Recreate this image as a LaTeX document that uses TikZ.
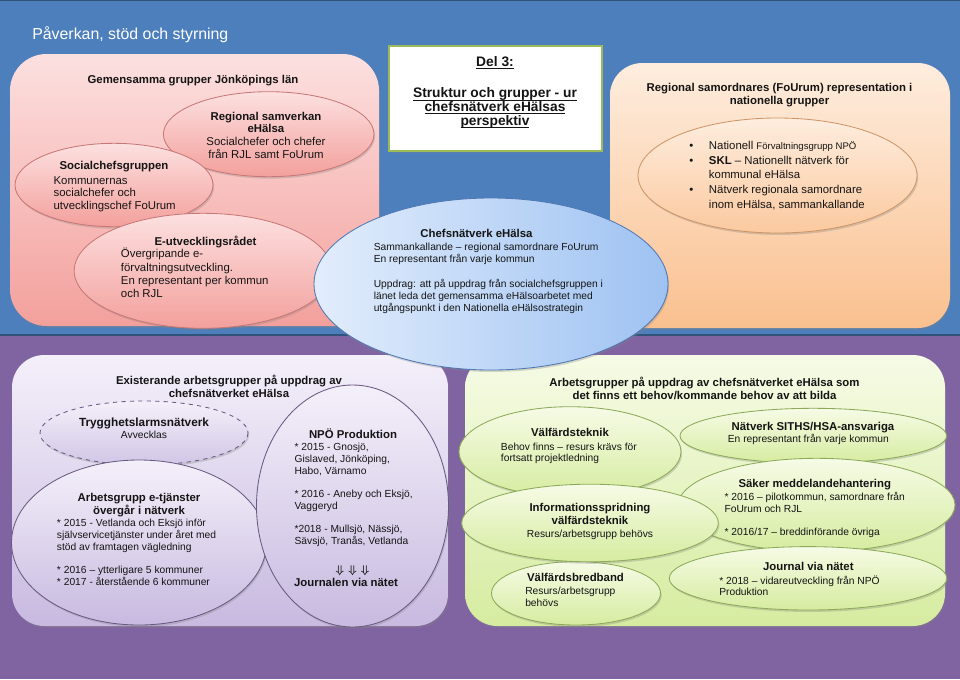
\documentclass[tikz,border=0pt]{standalone}
\usepackage{fontspec}
\setmainfont{Liberation Sans}
\usetikzlibrary{shadows}

\definecolor{bgblue}{RGB}{76,127,188}
\definecolor{bgpurple}{RGB}{128,100,162}
\definecolor{pinktop}{RGB}{252,224,224}
\definecolor{pinkbot}{RGB}{243,160,156}
\definecolor{pinkline}{RGB}{200,120,118}
\definecolor{oratop}{RGB}{254,237,222}
\definecolor{orabot}{RGB}{250,192,143}
\definecolor{oraline}{RGB}{205,150,105}
\definecolor{blutop}{RGB}{226,237,252}
\definecolor{blubot}{RGB}{158,194,242}
\definecolor{bluline}{RGB}{80,120,180}
\definecolor{lavtop}{RGB}{244,240,250}
\definecolor{lavbot}{RGB}{200,186,224}
\definecolor{lavline}{RGB}{105,90,130}
\definecolor{grntop}{RGB}{246,251,230}
\definecolor{grnbot}{RGB}{214,236,160}
\definecolor{grnline}{RGB}{140,170,90}
\definecolor{delline}{RGB}{155,187,89}
\definecolor{txt}{RGB}{20,20,20}

\newcommand\fsmall{\fontsize{7.3}{8.3}\selectfont}
\newcommand\fmid{\fontsize{8.1}{9.2}\selectfont}
\newcommand\uln[1]{\underline{\smash{#1}}}

\begin{document}
\begin{tikzpicture}[x=0.025cm, y=-0.025cm,
    every node/.style={inner sep=0pt, text=txt},
    hd/.style={font=\fmid\bfseries},
    bd/.style={font=\fsmall},
    shade/.style={drop shadow={opacity=0.3, shadow xshift=0.8pt, shadow yshift=-1.4pt}},
    panel/.style={shade, rounded corners=23pt},
    bubble/.style={shade, line width=0.6pt},
]
\useasboundingbox (0,0) rectangle (960,679);

% Background bands
\fill[bgblue] (0,0) rectangle (960,336);
\fill[bgpurple] (0,336) rectangle (960,679);
\draw[bgblue!65!black, line width=1pt] (0,335) -- (960,335);
\draw[bgblue!65!black, line width=1pt] (0,0.6) -- (960,0.6);

\node[anchor=base west, text=white, font=\fontsize{11.3}{13}\selectfont] (title) at (32,39) {Påverkan, stöd och styrning};

% --- Gemensamma grupper
\path[panel, rounded corners=26pt, top color=pinktop, bottom color=pinkbot] (10,54) rectangle (379,326);
\node[hd, anchor=base] (pinkT) at (193,83) {Gemensamma grupper Jönköpings län};

\draw[bubble, draw=pinkline, top color=pinktop, bottom color=pinkbot] (268.7,134.2) ellipse [x radius=105.3, y radius=42.5];
\node[font=\fmid, align=center, anchor=north] (regT) at (266,111.5) {\textbf{Regional samverkan}\\\textbf{eHälsa}\\Socialchefer och chefer\\från RJL samt FoUrum};

\draw[bubble, draw=pinkline, top color=pinktop, bottom color=pinkbot] (114,185) ellipse [x radius=99, y radius=41.7];
\node[hd, anchor=base] (socT) at (114,169) {Socialchefsgruppen};
\node[font=\fontsize{8.1}{8.9}\selectfont, align=left, anchor=north west] (socB) at (53.3,176) {Kommunernas\\socialchefer och\\utvecklingschef FoUrum};

\draw[bubble, draw=pinkline, top color=pinktop, bottom color=pinkbot] (203,270.8) ellipse [x radius=128.8, y radius=57.5];
\node[hd, anchor=base] (eutT) at (205.5,245.5) {E-utvecklingsrådet};
\node[font=\fontsize{8.1}{9.4}\selectfont, align=left, anchor=north west] (eutB) at (120.7,248) {Övergripande e-\\förvaltningsutveckling.\\En representant per kommun\\och RJL};

% --- Del 3 box
\draw[shade, delline, line width=1.8pt, fill=white] (389,46) rectangle (602,151);
\node[font=\fontsize{9.8}{9.8}\selectfont\bfseries, anchor=base] (delA) at (495,66.5) {\uln{Del 3:}};
\node[font=\fontsize{9.8}{9.8}\selectfont\bfseries, align=center, anchor=north] (delB) at (495,97.6) {\uln{Struktur och grupper - ur}\\\uln{chefsnätverk eHälsas}\\\uln{perspektiv}};

% --- Regional samordnare
\path[panel, top color=oratop, bottom color=orabot] (610,63) rectangle (950,328);
\node[hd, align=center, anchor=north] (oraT) at (779.5,83.2) {Regional samordnares (FoUrum) representation i\\nationella grupper};
\draw[bubble, draw=oraline, top color=oratop, bottom color=orabot!80!oratop] (777.5,175.5) ellipse [x radius=139.5, y radius=57.5];
\node[font=\fontsize{8.1}{10.4}\selectfont, align=left, anchor=north west] (oraL) at (689,141) {\makebox[14pt][l]{\textbullet}Nationell {\fontsize{6.8}{10.4}\selectfont Förvaltningsgrupp NPÖ}\\\makebox[14pt][l]{\textbullet}\textbf{SKL} – Nationellt nätverk för\\\hspace*{14pt}kommunal eHälsa\\\makebox[14pt][l]{\textbullet}Nätverk regionala samordnare\\\hspace*{14pt}inom eHälsa, sammankallande};

% --- Existerande arbetsgrupper
\path[panel, top color=lavtop, bottom color=lavbot] (12,355) rectangle (448,626);
\node[hd, align=center, anchor=north] (lavT) at (229,375.2) {Existerande arbetsgrupper på uppdrag av\\chefsnätverket eHälsa};

\draw[bubble, dashed, draw=lavline, top color=lavtop, bottom color=lavbot!80!lavtop] (144,433) ellipse [x radius=104, y radius=32];
\node[font=\fontsize{8.4}{9.4}\selectfont\bfseries, anchor=base] (tryT) at (144,426.4) {Trygghetslarmsnätverk};
\node[bd, anchor=base] (tryB) at (144,438.7) {Avvecklas};

\draw[bubble, draw=lavline, top color=lavtop, bottom color=lavbot] (139,542.5) ellipse [x radius=127.5, y radius=82.5];
\node[font=\fontsize{8.1}{9.5}\selectfont\bfseries, align=center, anchor=north] (arbT) at (139,492.6) {Arbetsgrupp e-tjänster\\övergår i nätverk};
\node[bd, align=left, anchor=north west] (arbB) at (56.7,519) {* 2015 - Vetlanda och Eksjö inför\\självservicetjänster under året med\\stöd av framtagen vägledning\\[8.3pt]* 2016 – ytterligare 5 kommuner\\* 2017 - återstående 6 kommuner};

\draw[bubble, draw=lavline, top color=lavtop, bottom color=lavbot] (352.5,506) ellipse [x radius=96, y radius=121];
\node[hd, anchor=base] (npoT) at (353,438.1) {NPÖ Produktion};
\node[bd, align=left, anchor=north west] (npoB) at (294.3,443) {* 2015 - Gnosjö,\\Gislaved, Jönköping,\\Habo, Värnamo\\[8.3pt]* 2016 - Aneby och Eksjö,\\Vaggeryd\\[8.3pt]*2018 - Mullsjö, Nässjö,\\Sävsjö, Tranås, Vetlanda};
\node[font=\boldmath\fontsize{8.5}{9}\selectfont, anchor=base] (npoA) at (352.5,573) {$\Downarrow\hspace{3pt}\Downarrow\hspace{3pt}\Downarrow$};
\node[hd, anchor=base] (npoJ) at (346,586.8) {Journalen via nätet};

% --- Arbetsgrupper som behövs
\path[panel, top color=grntop, bottom color=grnbot] (465,355) rectangle (945,626);
\node[hd, align=center, anchor=north] (grnT) at (704.5,376.6) {Arbetsgrupper på uppdrag av chefsnätverket eHälsa som\\det finns ett behov/kommande behov av att bilda};

\draw[bubble, draw=grnline, top color=grntop, bottom color=grnbot] (570,451.7) ellipse [x radius=111, y radius=45];
\node[hd, anchor=base] (valT) at (570,436.8) {Välfärdsteknik};
\node[font=\fontsize{7.3}{8.1}\selectfont, align=left, anchor=north west] (valB) at (500.7,442.3) {Behov finns – resurs krävs för\\fortsatt projektledning};

\draw[bubble, draw=grnline, top color=grntop, bottom color=grnbot] (576,593.3) ellipse [x radius=84.5, y radius=31.7];
\node[hd, anchor=base] (breT) at (575.5,581.8) {Välfärdsbredband};
\node[bd, align=left, anchor=north west] (breB) at (525,587) {Resurs/arbetsgrupp\\behövs};

\draw[bubble, draw=grnline, top color=grntop, bottom color=grnbot] (813.3,435.8) ellipse [x radius=133.3, y radius=27.5];
\node[hd, anchor=base] (sitT) at (813,430.8) {Nätverk SITHS/HSA-ansvariga};
\node[bd, anchor=base] (sitB) at (808.3,442.7) {En representant från varje kommun};

\draw[bubble, draw=grnline, top color=grntop, bottom color=grnbot] (816.7,505) ellipse [x radius=138.3, y radius=46.7];
\node[hd, anchor=base] (sakT) at (814.8,487.4) {Säker meddelandehantering};
\node[bd, align=left, anchor=north west] (sakB) at (724.3,492) {* 2016 – pilotkommun, samordnare från\\FoUrum och RJL\\[8.3pt]* 2016/17 – breddinförande övriga};

\draw[bubble, draw=grnline, top color=grntop, bottom color=grnbot] (590,523) ellipse [x radius=128.3, y radius=38.8];
\node[font=\fmid, align=center, anchor=north] (infT) at (590,502.6) {\textbf{Informationsspridning}\\\textbf{välfärdsteknik}\\{\fsmall Resurs/arbetsgrupp behövs}};

\draw[bubble, draw=grnline, top color=grntop, bottom color=grnbot] (808,578.3) ellipse [x radius=138.7, y radius=31.7];
\node[hd, anchor=base] (jouT) at (808.3,570.8) {Journal via nätet};
\node[bd, align=left, anchor=north west] (jouB) at (719,575.3) {* 2018 – vidareutveckling från NPÖ\\Produktion};

% --- Chefsnätverk eHälsa (on top)
\draw[bubble, draw=bluline, left color=blutop, right color=blubot] (491,284) ellipse [x radius=177, y radius=86];
\node[hd, anchor=base] (bluT) at (476.5,237) {Chefsnätverk eHälsa};
\node[font=\fontsize{7.3}{8.8}\selectfont, align=left, anchor=north west] (bluB) at (373.5,242.3) {Sammankallande – regional samordnare FoUrum\\En representant från varje kommun\\[8.8pt]Uppdrag: att på uppdrag från socialchefsgruppen i\\länet leda det gemensamma eHälsoarbetet med\\utgångspunkt i den Nationella eHälsostrategin};

\end{tikzpicture}
\end{document}
